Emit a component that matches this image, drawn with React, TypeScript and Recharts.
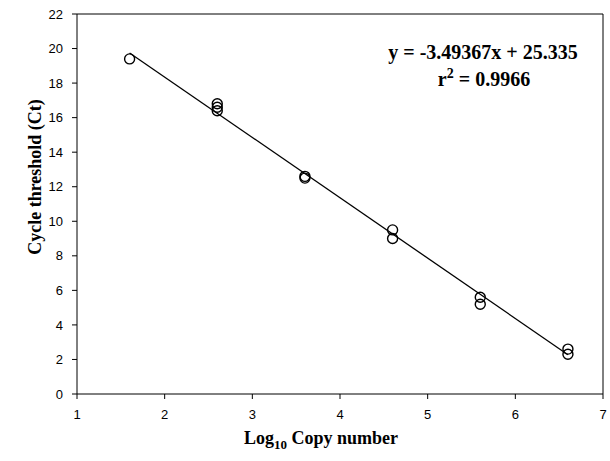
import { ScatterChart, Scatter, XAxis, YAxis, ReferenceLine, Label } from 'recharts';

// log10 copy number vs measured Ct (replicates)
const logCopies = [1.6, 2.6, 2.6, 2.6, 3.6, 3.6, 4.6, 4.6, 5.6, 5.6, 6.6, 6.6];
const ctValues = [19.4, 16.8, 16.6, 16.4, 12.6, 12.5, 9.5, 9.0, 5.6, 5.2, 2.6, 2.3];

const xTicks = [1, 2, 3, 4, 5, 6, 7];
const yTicks = [0, 2, 4, 6, 8, 10, 12, 14, 16, 18, 20, 22];

// fitted standard curve
const slope = -3.49367;
const intercept = 25.335;
const fitRange = [1.6, 6.6];

const points = logCopies.map((x, i) => ({ x, y: ctValues[i] }));
const fitSegment = fitRange.map((x) => ({ x, y: slope * x + intercept }));

const serif = '"Liberation Serif", "Times New Roman", serif';
const sans = '"Liberation Sans", Arial, sans-serif';

const OpenCircle = (props: any) => (
  <circle cx={props.cx} cy={props.cy} r={5} fill="none" stroke="#000" strokeWidth={1.4} />
);

const XTitle = () => (
  <text x={321} y={444} textAnchor="middle" fontFamily={serif} fontWeight="bold" fontSize={18} fill="#000">
    Log
    <tspan dy={5} fontSize={13}>10</tspan>
    <tspan dy={-5}> Copy number</tspan>
  </text>
);

const YTitle = () => (
  <text
    x={35}
    y={177}
    transform="rotate(-90, 35, 177)"
    textAnchor="middle"
    dominantBaseline="central"
    fontFamily={serif}
    fontWeight="bold"
    fontSize={18}
    fill="#000"
  >
    Cycle threshold (Ct)
  </text>
);

export default function App() {
  const tickStyle = { fill: '#000', fontSize: 13, fontFamily: sans };
  return (
    <div style={{ position: 'absolute', left: 0, top: 0, width: 610, height: 461, background: '#fff' }}>
      <ScatterChart width={610} height={461} margin={{ top: 14, right: 7, bottom: 0, left: 0 }}>
        <XAxis
          type="number"
          dataKey="x"
          domain={[1, 7]}
          ticks={xTicks}
          height={67}
          tickSize={5}
          tickMargin={6}
          axisLine={{ stroke: '#000' }}
          tickLine={{ stroke: '#000' }}
          tick={{ ...tickStyle, dy: 5 }}
          allowDataOverflow
        >
          <Label content={<XTitle />} />
        </XAxis>
        <YAxis
          type="number"
          dataKey="y"
          domain={[0, 22]}
          ticks={yTicks}
          width={77}
          tickSize={5}
          tickMargin={9}
          axisLine={{ stroke: '#000' }}
          tickLine={{ stroke: '#000' }}
          tick={tickStyle}
          allowDataOverflow
        >
          <Label content={<YTitle />} />
        </YAxis>
        <ReferenceLine y={22} stroke="#000" />
        <ReferenceLine x={7} stroke="#000" />
        <ReferenceLine segment={fitSegment} stroke="#000" strokeWidth={1.3} />
        <Scatter data={points} shape={OpenCircle} isAnimationActive={false} />
      </ScatterChart>
      <svg width={610} height={461} style={{ position: 'absolute', left: 0, top: 0, pointerEvents: 'none' }}>
        <text x={483} y={59} textAnchor="middle" fontFamily={serif} fontWeight="bold" fontSize={20} fill="#000">
          y = -3.49367x + 25.335
        </text>
        <text x={484} y={86} textAnchor="middle" fontFamily={serif} fontWeight="bold" fontSize={20} fill="#000">
          r<tspan dy={-8} fontSize={14}>2</tspan>
          <tspan dy={8}> = 0.9966</tspan>
        </text>
      </svg>
    </div>
  );
}
